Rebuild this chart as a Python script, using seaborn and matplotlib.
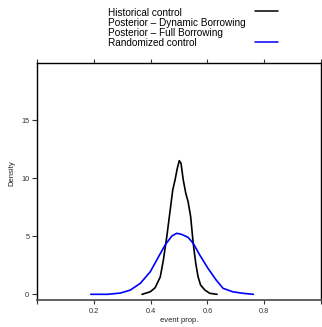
import matplotlib
matplotlib.use("Agg")
import matplotlib.pyplot as plt
from matplotlib.lines import Line2D
import seaborn as sns
import pandas as pd

# ---- data ----
hist_x = [0.370, 0.399, 0.416, 0.434, 0.445, 0.457, 0.469, 0.478, 0.486, 0.494,
          0.501, 0.507, 0.515, 0.524, 0.532, 0.541, 0.550, 0.559, 0.567, 0.576,
          0.591, 0.608, 0.634]
hist_y = [0.0, 0.22, 0.57, 1.5, 2.96, 4.97, 7.27, 9.0, 9.85, 10.86,
          11.52, 11.3, 9.85, 8.7, 7.98, 6.7, 4.4, 2.67, 1.52, 0.8,
          0.37, 0.09, 0.0]
rand_x = [0.1895, 0.248, 0.294, 0.329, 0.364, 0.399, 0.428, 0.451, 0.475, 0.492,
          0.509, 0.532, 0.550, 0.573, 0.602, 0.631, 0.655, 0.689, 0.724, 0.762]
rand_y = [0.0, 0.0, 0.11, 0.37, 0.95, 1.95, 3.24, 4.25, 5.03, 5.26,
          5.17, 4.91, 4.40, 3.39, 2.24, 1.23, 0.52, 0.22, 0.09, 0.0]

legend_labels = ["Historical control", "Posterior \u2013 Dynamic Borrowing",
                 "Posterior \u2013 Full Borrowing", "Randomized control"]
legend_colors = ["black", None, None, "#0000FF"]

xticks = [0.0, 0.2, 0.4, 0.6, 0.8, 1.0]
xticklabels = ["", "0.2", "0.4", "0.6", "0.8", ""]
yticks = [0, 5, 10, 15]
yticklabels = ["0", "5", "10", "15"]

sns.set_theme(style="white")
plt.rcParams["font.family"] = ["Liberation Sans", "DejaVu Sans"]

W, H = 322, 327
fig = plt.figure(figsize=(W / 100, H / 100), dpi=100)
ax = fig.add_axes([37 / W, 1 - 300 / H, (321 - 37) / W, (300 - 63) / H])

df_h = pd.DataFrame({"x": hist_x, "y": hist_y})
df_r = pd.DataFrame({"x": rand_x, "y": rand_y})
sns.lineplot(data=df_h, x="x", y="y", color="black", lw=1.2, ax=ax, sort=False)
sns.lineplot(data=df_r, x="x", y="y", color="#0000FF", lw=1.2, ax=ax, sort=False)

ax.set_xlim(0.0, 1.0)
ax.set_ylim(-0.49, 19.94)
ax.set_xticks(xticks)
ax.set_xticklabels(xticklabels)
ax.set_yticks(yticks)
ax.set_yticklabels(yticklabels)
ax.set_xlabel("")
ax.set_ylabel("")
ax.tick_params(axis="x", direction="out", length=3, width=0.8, pad=2.5,
               labelsize=5.3, colors="#333333", top=True, bottom=True)
ax.tick_params(axis="y", direction="out", length=3.5, width=0.8, pad=2,
               labelsize=5.3, colors="#333333", left=True, right=False)
for s in ["left", "top", "right"]:
    ax.spines[s].set_color("black")
    ax.spines[s].set_linewidth(1.0)
ax.spines["bottom"].set_color("#555555")
ax.spines["bottom"].set_linewidth(1.3)
ax.grid(False)

fig.text(12 / W, 1 - 173 / H, "Density", rotation=90, ha="center", va="center",
         fontsize=5.5, color="#222222")
fig.text(179 / W, 1 - 321 / H, "event prop.", ha="center", va="center",
         fontsize=5.5, color="#222222")

# legend above the panel
baselines = [16, 26, 36.2, 46.5]
for lab, col, b in zip(legend_labels, legend_colors, baselines):
    fig.text(108 / W, 1 - b / H, lab, ha="left", va="baseline", fontsize=7.2,
             color="black")
    if col is not None:
        yy = 1 - (b - 4.8) / H
        fig.add_artist(Line2D([255 / W, 278 / W], [yy, yy], color=col, lw=1.1,
                              transform=fig.transFigure))

fig.savefig("out.png", dpi=100)
